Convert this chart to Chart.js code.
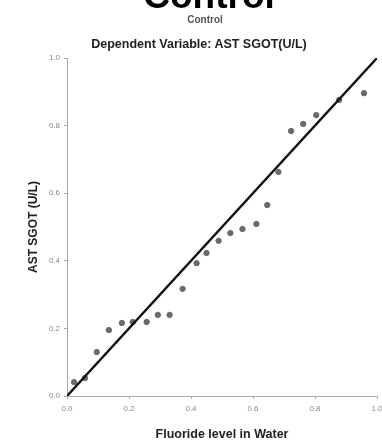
<!DOCTYPE html>
<html>
<head>
<meta charset="utf-8">
<script src="https://cdn.jsdelivr.net/npm/chart.js@4.4.1/dist/chart.umd.min.js"></script>
<style>
  html, body { margin: 0; padding: 0; background: #fff; }
  #wrap { position: relative; width: 382px; height: 446px; overflow: hidden; font-family: "Liberation Sans", Arial, sans-serif; }
  .t { position: absolute; left: 0; width: 100%; text-align: center; white-space: nowrap; }
  #big { top: -25px; left: 18px; font-size: 37px; font-weight: bold; color: #000; }
  #sub1 { top: 14px; left: 14px; font-size: 10px; font-weight: bold; color: #555; }
  #sub2 { top: 37px; left: 8px; font-size: 12.5px; font-weight: bold; color: #222; }
  canvas { position: absolute; left: 0; top: 0; }
</style>
</head>
<body>
<div id="wrap">
  <canvas id="c" width="382" height="446"></canvas>
  <div class="t" id="big">Control</div>
  <div class="t" id="sub1">Control</div>
  <div class="t" id="sub2">Dependent Variable: AST SGOT(U/L)</div>
</div>
<script>
// expected cumulative probability (x) vs observed (y)
const expectedProb = [0.023, 0.058, 0.096, 0.135, 0.177, 0.212, 0.257, 0.293, 0.331, 0.373, 0.418, 0.450,
  0.489, 0.527, 0.566, 0.611, 0.646, 0.682, 0.723, 0.762, 0.804, 0.878, 0.958];
const observedProb = [0.041, 0.053, 0.130, 0.195, 0.216, 0.219, 0.219, 0.240, 0.240, 0.317, 0.393, 0.423,
  0.459, 0.482, 0.494, 0.509, 0.565, 0.663, 0.784, 0.805, 0.831, 0.876, 0.896];
const refLine = [0, 1];
const tickLabels = { 0: "0.0", 0.2: "0.2", 0.4: "0.4", 0.6: "0.6", 0.8: "0.8", 1: "1.0" };

const pts = expectedProb.map((x, i) => ({ x, y: observedProb[i] }));
const diag = refLine.map((v) => ({ x: v, y: v }));

const tickFmt = (v) => tickLabels[Math.round(v * 10) / 10] ?? "";

new Chart(document.getElementById("c"), {
  type: "scatter",
  data: {
    datasets: [
      { data: diag, showLine: true, borderColor: "#111", borderWidth: 2.4, pointRadius: 0, order: 0 },
      { data: pts, backgroundColor: "#6a6a6a", borderColor: "#6a6a6a", pointRadius: 2.7, order: 1 },
    ],
  },
  options: {
    responsive: false,
    animation: false,
    layout: { padding: { top: 58, right: 4, left: 22, bottom: 0 } },
    plugins: { legend: { display: false }, tooltip: { enabled: false } },
    scales: {
      x: {
        type: "linear", min: 0, max: 1,
        afterFit: (s) => { s.height = 50; s.paddingLeft = 0; s.paddingRight = 0; },
        grid: { drawOnChartArea: false, tickLength: 3, color: "#aaa" },
        border: { color: "#aaa" },
        ticks: { stepSize: 0.2, color: "#888", font: { size: 8, family: "Liberation Sans" }, callback: tickFmt, padding: 5 },
        title: { display: true, text: "Fluoride level in Water", color: "#222", font: { size: 12.5, weight: "bold", family: "Liberation Sans" }, padding: { top: 8 } },
      },
      y: {
        type: "linear", min: 0, max: 1,
        afterFit: (s) => { s.width = 45; s.paddingTop = 0; s.paddingBottom = 0; },
        grid: { drawOnChartArea: false, tickLength: 3, color: "#aaa" },
        border: { color: "#aaa" },
        ticks: { stepSize: 0.2, color: "#888", font: { size: 8, family: "Liberation Sans" }, callback: tickFmt, padding: 4 },
        title: { display: true, text: "AST SGOT (U/L)", color: "#222", font: { size: 12, weight: "bold", family: "Liberation Sans" }, padding: { bottom: 6 } },
      },
    },
  },
});
</script>
</body>
</html>
